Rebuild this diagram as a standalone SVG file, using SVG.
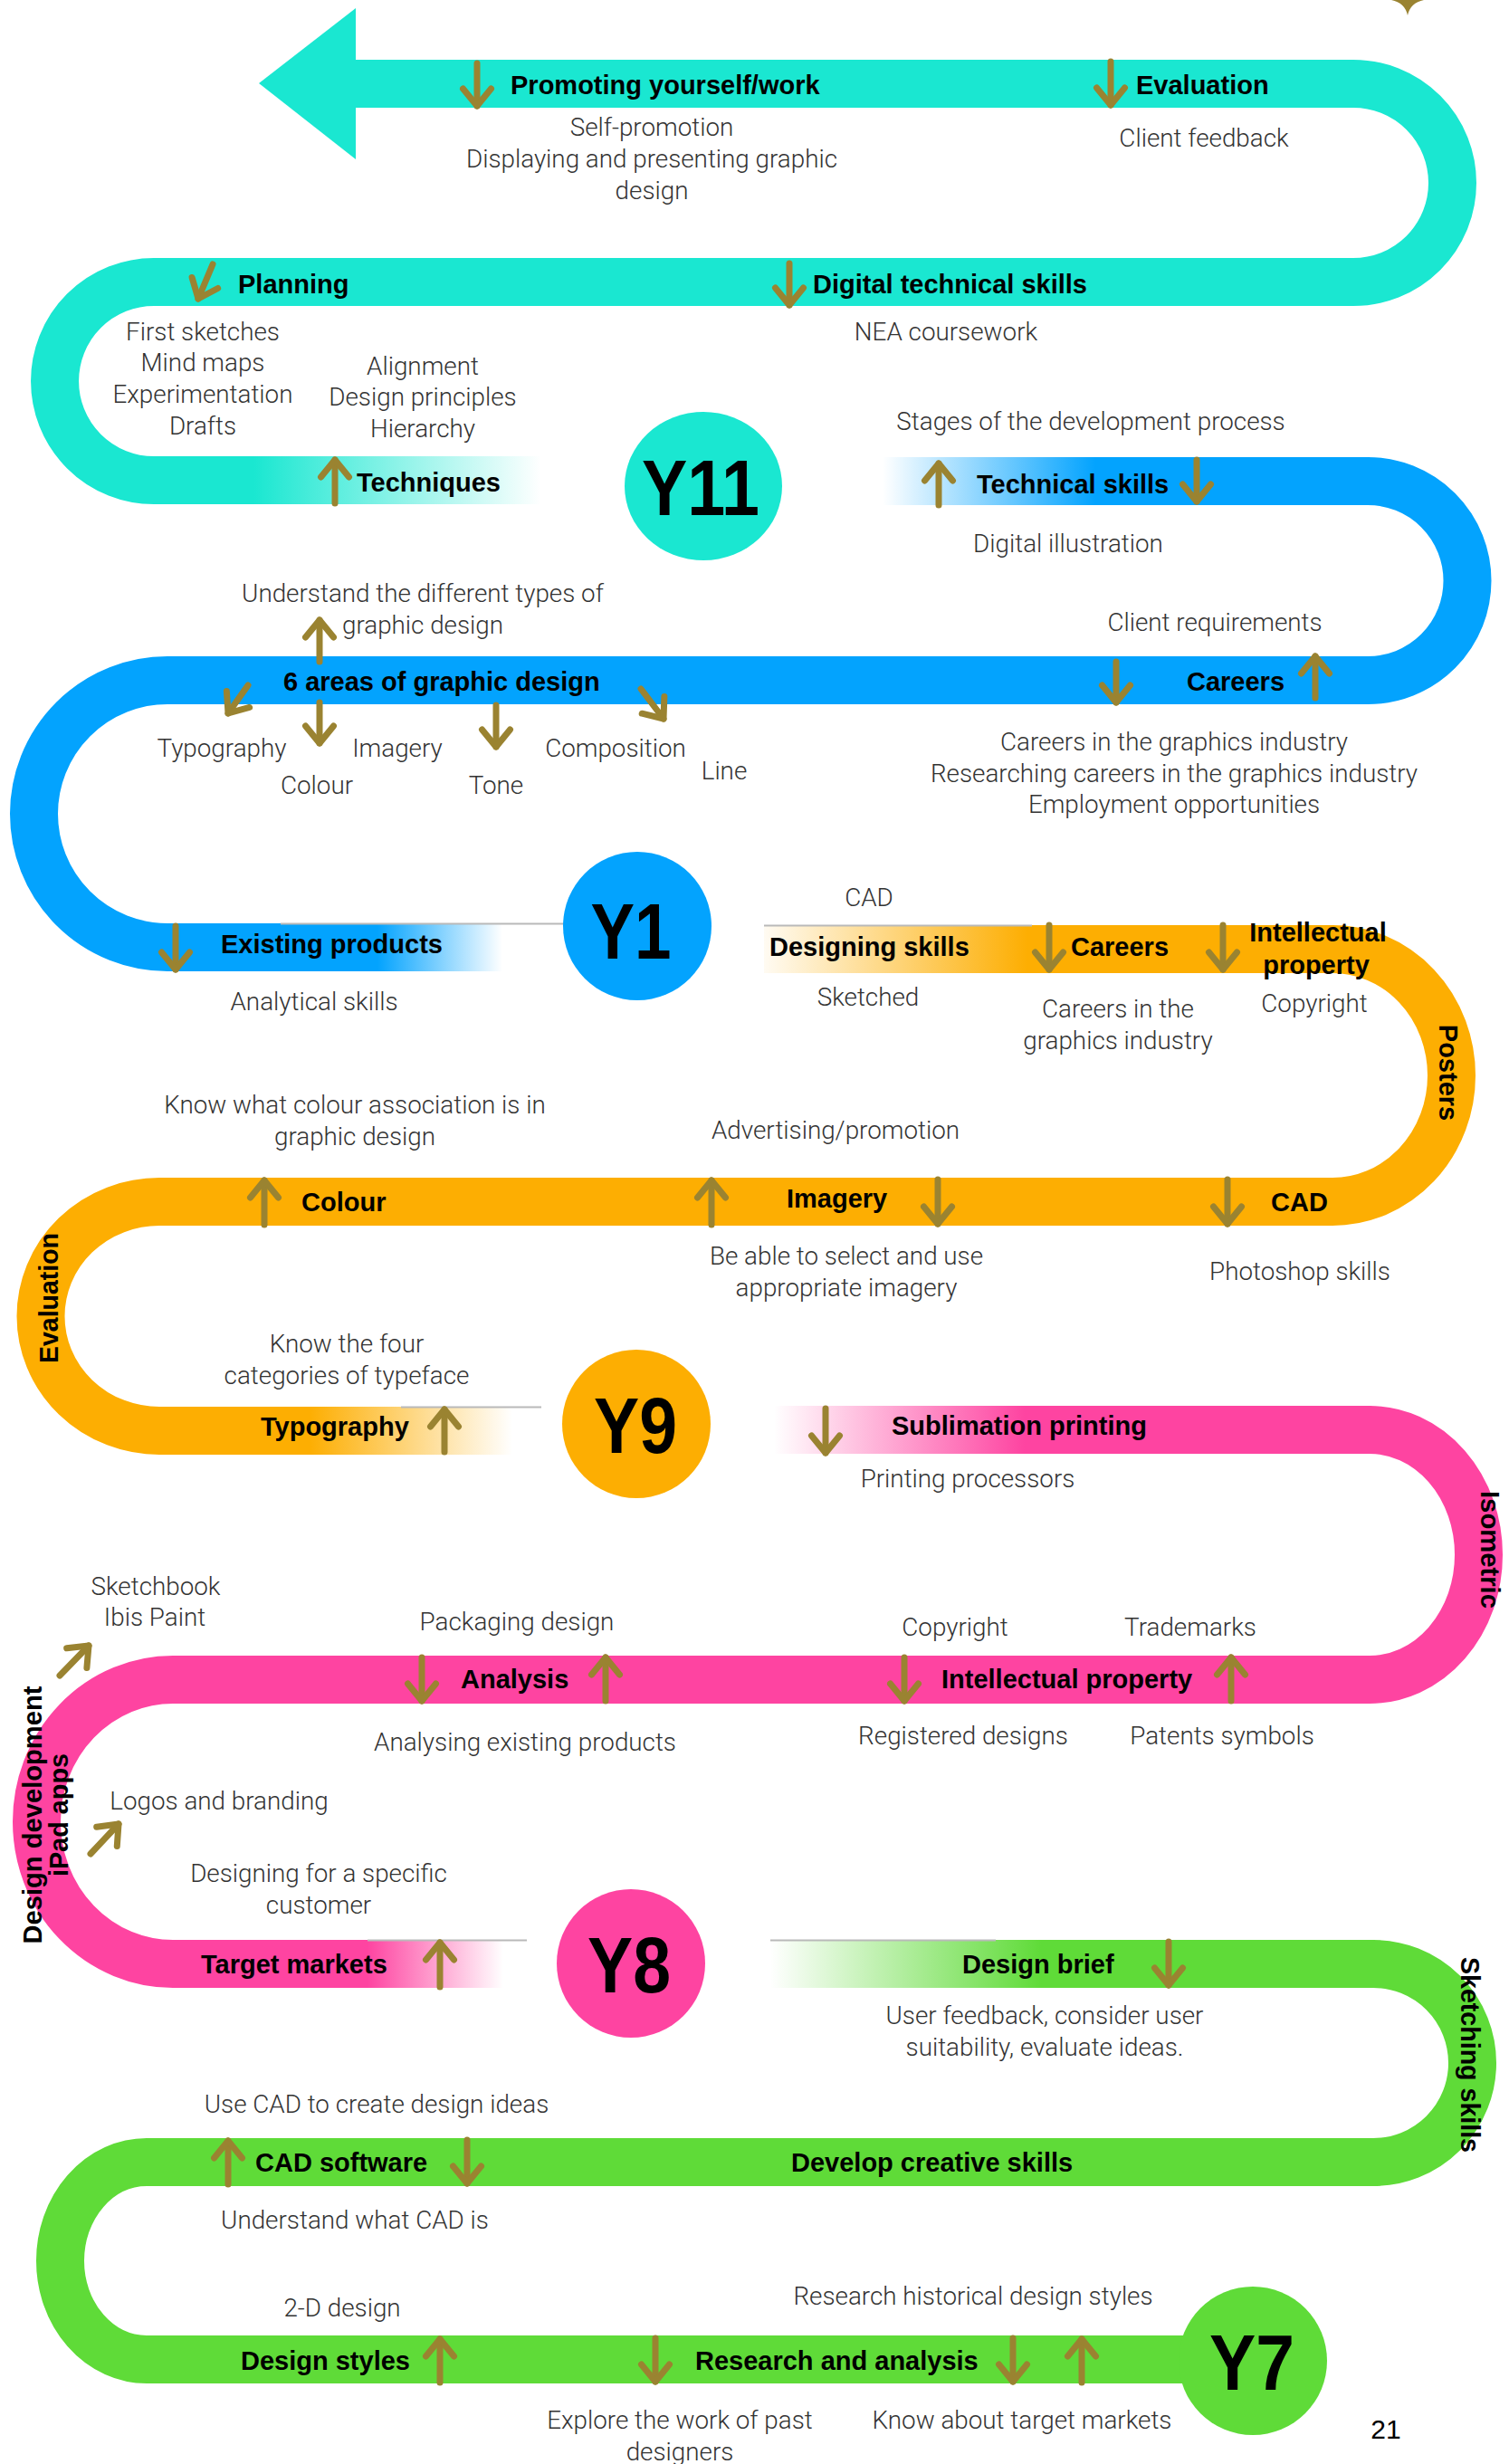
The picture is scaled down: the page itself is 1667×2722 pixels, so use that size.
<svg xmlns="http://www.w3.org/2000/svg" width="1667" height="2722" viewBox="0 0 1667 2722">
<defs>
<style>
.lbl{font-family:"Liberation Sans",Arial,sans-serif;font-weight:bold;font-size:29px;fill:#000}
.txt{font-family:Roboto,"Open Sans","Liberation Sans",sans-serif;font-weight:300;font-size:27.8px;fill:#333;text-anchor:middle}
.vt{font-family:"Liberation Sans",Arial,sans-serif;font-weight:bold;font-size:29px;fill:#000;text-anchor:middle}
.yr{font-family:"Liberation Sans",Arial,sans-serif;font-weight:bold;font-size:88px;fill:#000;text-anchor:middle}
.band{fill:none;stroke-width:53;stroke-linecap:butt;stroke-linejoin:round}
.arr{fill:none;stroke:#9A8331;stroke-width:7;stroke-linecap:round;marker-end:url(#ah)}
.seam{stroke:#b9b9b9;stroke-width:2}
</style>
<marker id="ah" markerUnits="userSpaceOnUse" viewBox="-25 -22 31 44" refX="0" refY="0" markerWidth="31" markerHeight="44" orient="auto">
<path d="M-19,-15.5 L0,0 L-19,15.5" fill="none" stroke="#9A8331" stroke-width="7" stroke-linecap="round" stroke-linejoin="round"/>
</marker>
<linearGradient id="gTeal" gradientUnits="userSpaceOnUse" x1="280" y1="0" x2="598" y2="0"><stop offset="0" stop-color="#1AE7D1"/><stop offset="1" stop-color="#1AE7D1" stop-opacity="0"/></linearGradient>
<linearGradient id="gBlueIn" gradientUnits="userSpaceOnUse" x1="975" y1="0" x2="1210" y2="0"><stop offset="0" stop-color="#03A3FE" stop-opacity="0"/><stop offset="1" stop-color="#03A3FE"/></linearGradient>
<linearGradient id="gBlueOut" gradientUnits="userSpaceOnUse" x1="417" y1="0" x2="555" y2="0"><stop offset="0" stop-color="#03A3FE"/><stop offset="1" stop-color="#03A3FE" stop-opacity="0"/></linearGradient>
<linearGradient id="gOrIn" gradientUnits="userSpaceOnUse" x1="844" y1="0" x2="1135" y2="0"><stop offset="0" stop-color="#FDAE02" stop-opacity="0.05"/><stop offset="1" stop-color="#FDAE02"/></linearGradient>
<linearGradient id="gOrOut" gradientUnits="userSpaceOnUse" x1="342" y1="0" x2="566" y2="0"><stop offset="0" stop-color="#FDAE02"/><stop offset="1" stop-color="#FDAE02" stop-opacity="0"/></linearGradient>
<linearGradient id="gPkIn" gradientUnits="userSpaceOnUse" x1="855" y1="0" x2="1132" y2="0"><stop offset="0" stop-color="#FE44A1" stop-opacity="0"/><stop offset="1" stop-color="#FE44A1"/></linearGradient>
<linearGradient id="gPkOut" gradientUnits="userSpaceOnUse" x1="406" y1="0" x2="556" y2="0"><stop offset="0" stop-color="#FE44A1"/><stop offset="1" stop-color="#FE44A1" stop-opacity="0"/></linearGradient>
<linearGradient id="gGrIn" gradientUnits="userSpaceOnUse" x1="851" y1="0" x2="1150" y2="0"><stop offset="0" stop-color="#5FDB38" stop-opacity="0"/><stop offset="1" stop-color="#5FDB38"/></linearGradient>
</defs>
<rect width="1667" height="2722" fill="#fff"/>

<!-- Y11 teal section -->
<g id="band-y11">
<polygon points="286,92 393,9 393,176" fill="#1AE7D1"/>
<path class="band" stroke="#1AE7D1" d="M390,92.5 H1495 A109.5,109.5 0 0 1 1495,311.5 H170 A109.5,109.5 0 0 0 170,530.5 H172"/>
<rect x="170" y="504" width="430" height="53" fill="url(#gTeal)"/>
<text class="lbl" x="564" y="104">Promoting yourself/work</text>
<text class="lbl" x="1255" y="104">Evaluation</text>
<text class="txt" x="720" y="150">Self-promotion</text>
<text class="txt" x="720" y="185">Displaying and presenting graphic</text>
<text class="txt" x="720" y="220">design</text>
<text class="txt" x="1330" y="162">Client feedback</text>
<text class="lbl" x="263" y="324">Planning</text>
<text class="lbl" x="898" y="324">Digital technical skills</text>
<text class="txt" x="1045" y="376">NEA coursework</text>
<text class="txt" x="224" y="376">First sketches</text>
<text class="txt" x="224" y="410">Mind maps</text>
<text class="txt" x="224" y="445">Experimentation</text>
<text class="txt" x="224" y="480">Drafts</text>
<text class="txt" x="467" y="414">Alignment</text>
<text class="txt" x="467" y="448">Design principles</text>
<text class="txt" x="467" y="483">Hierarchy</text>
<text class="lbl" x="394" y="543">Techniques</text>
</g>
<g id="node-y11">
<ellipse cx="777" cy="537" rx="87" ry="82" fill="#1AE7D1"/>
<text class="yr" x="774" y="569" textLength="130" lengthAdjust="spacingAndGlyphs">Y11</text>
</g>

<!-- Y1 blue section -->
<g id="band-y1">
<rect x="975" y="505" width="538" height="53" fill="url(#gBlueIn)"/>
<path class="band" stroke="#03A3FE" d="M1511,531.5 A110,110 0 0 1 1511,751.5 H185 A147.5,147.5 0 0 0 185,1046.5 H187"/>
<rect x="184" y="1020" width="380" height="53" fill="url(#gBlueOut)"/>
<line class="seam" x1="310" y1="1020.5" x2="623" y2="1020.5"/>
<text class="lbl" x="1079" y="545">Technical skills</text>
<text class="txt" x="1205" y="475">Stages of the development process</text>
<text class="txt" x="1180" y="610">Digital illustration</text>
<text class="txt" x="467" y="665">Understand the different types of</text>
<text class="txt" x="467" y="700">graphic design</text>
<text class="lbl" x="313" y="763">6 areas of graphic design</text>
<text class="txt" x="245" y="836">Typography</text>
<text class="txt" x="439" y="836">Imagery</text>
<text class="txt" x="680" y="836">Composition</text>
<text class="txt" x="350" y="877">Colour</text>
<text class="txt" x="548" y="877">Tone</text>
<text class="txt" x="800" y="861">Line</text>
<text class="txt" x="1342" y="697">Client requirements</text>
<text class="lbl" x="1311" y="763">Careers</text>
<text class="txt" x="1297" y="829">Careers in the graphics industry</text>
<text class="txt" x="1297" y="864">Researching careers in the graphics industry</text>
<text class="txt" x="1297" y="898">Employment opportunities</text>
<text class="lbl" x="244" y="1053">Existing products</text>
<text class="txt" x="347" y="1116">Analytical skills</text>
</g>
<g id="node-y1">
<circle cx="704" cy="1023" r="82" fill="#03A3FE"/>
<text class="yr" x="697" y="1059" textLength="89" lengthAdjust="spacingAndGlyphs">Y1</text>
</g>

<!-- Y9 orange section -->
<g id="band-y9">
<rect x="844" y="1022" width="630" height="53" fill="url(#gOrIn)"/>
<line class="seam" x1="844" y1="1022.5" x2="1140" y2="1022.5"/>
<path class="band" stroke="#FDAE02" d="M1472,1048.5 A131.5,139.5 0 0 1 1472,1327.5 H176 A131,126.5 0 0 0 176,1580.5 H178"/>
<rect x="175" y="1554" width="400" height="53" fill="url(#gOrOut)"/>
<line class="seam" x1="443" y1="1554.5" x2="598" y2="1554.5"/>
<text class="txt" x="960" y="1001">CAD</text>
<text class="lbl" x="850" y="1056">Designing skills</text>
<text class="lbl" x="1183" y="1056">Careers</text>
<text class="lbl" x="1456" y="1040" text-anchor="middle">Intellectual</text>
<text class="lbl" x="1454" y="1076" text-anchor="middle">property</text>
<text class="txt" x="959" y="1111">Sketched</text>
<text class="txt" x="1235" y="1124">Careers in the</text>
<text class="txt" x="1235" y="1159">graphics industry</text>
<text class="txt" x="1452" y="1118">Copyright</text>
<text class="vt" transform="translate(1590,1185) rotate(90)">Posters</text>
<text class="txt" x="392" y="1230">Know what colour association is in</text>
<text class="txt" x="392" y="1265">graphic design</text>
<text class="txt" x="923" y="1258">Advertising/promotion</text>
<text class="lbl" x="333" y="1338">Colour</text>
<text class="lbl" x="869" y="1334">Imagery</text>
<text class="lbl" x="1404" y="1338">CAD</text>
<text class="txt" x="935" y="1397">Be able to select and use</text>
<text class="txt" x="935" y="1432">appropriate imagery</text>
<text class="txt" x="1436" y="1414">Photoshop skills</text>
<text class="vt" transform="translate(64,1434) rotate(-90)" textLength="144" lengthAdjust="spacingAndGlyphs">Evaluation</text>
<text class="txt" x="383" y="1494">Know the four</text>
<text class="txt" x="383" y="1529">categories of typeface</text>
<text class="lbl" x="288" y="1586">Typography</text>
</g>
<g id="node-y9">
<circle cx="703" cy="1573" r="82" fill="#FDAE02"/>
<text class="yr" x="702" y="1605" textLength="92" lengthAdjust="spacingAndGlyphs">Y9</text>
</g>

<!-- Y8 pink section -->
<g id="band-y8">
<rect x="855" y="1553" width="660" height="53" fill="url(#gPkIn)"/>
<path class="band" stroke="#FE44A1" d="M1513,1579.5 A120.5,138 0 0 1 1513,1855.5 H191 A150.5,157 0 0 0 191,2169.5 H193"/>
<rect x="190" y="2143" width="380" height="53" fill="url(#gPkOut)"/>
<line class="seam" x1="406" y1="2143.5" x2="582" y2="2143.5"/>
<text class="lbl" x="985" y="1585">Sublimation printing</text>
<text class="txt" x="1069" y="1643">Printing processors</text>
<text class="vt" transform="translate(1636,1712) rotate(90)" textLength="130" lengthAdjust="spacingAndGlyphs">Isometric</text>
<text class="txt" x="172" y="1762">Sketchbook</text>
<text class="txt" x="171" y="1796">Ibis Paint</text>
<text class="txt" x="571" y="1801">Packaging design</text>
<text class="txt" x="1055" y="1807">Copyright</text>
<text class="txt" x="1315" y="1807">Trademarks</text>
<text class="lbl" x="509" y="1865">Analysis</text>
<text class="lbl" x="1040" y="1865">Intellectual property</text>
<text class="txt" x="580" y="1934">Analysing existing products</text>
<text class="txt" x="1064" y="1927">Registered designs</text>
<text class="txt" x="1350" y="1927">Patents symbols</text>
<text class="vt" transform="translate(46,2005) rotate(-90)" textLength="285" lengthAdjust="spacingAndGlyphs">Design development</text>
<text class="vt" transform="translate(75,2005) rotate(-90)" textLength="136" lengthAdjust="spacingAndGlyphs">iPad apps</text>
<text class="txt" x="242" y="1999">Logos and branding</text>
<text class="txt" x="352" y="2079">Designing for a specific</text>
<text class="txt" x="352" y="2114">customer</text>
<text class="lbl" x="222" y="2180">Target markets</text>
</g>
<g id="node-y8">
<circle cx="697" cy="2169" r="82" fill="#FE44A1"/>
<text class="yr" x="695" y="2201" textLength="92" lengthAdjust="spacingAndGlyphs">Y8</text>
</g>

<!-- Y7 green section -->
<g id="band-y7">
<rect x="851" y="2143" width="668" height="53" fill="url(#gGrIn)"/>
<line class="seam" x1="851" y1="2143.5" x2="1100" y2="2143.5"/>
<path class="band" stroke="#5FDB38" d="M1517,2169.5 A109.5,109.5 0 0 1 1517,2388.5 H162 A95.5,109 0 0 0 162,2606.5 H1340"/>
<text class="lbl" x="1063" y="2180">Design brief</text>
<text class="txt" x="1154" y="2236">User feedback, consider user</text>
<text class="txt" x="1154" y="2271">suitability, evaluate ideas.</text>
<text class="vt" transform="translate(1614,2270) rotate(90)" textLength="216" lengthAdjust="spacingAndGlyphs">Sketching skills</text>
<text class="txt" x="416" y="2334">Use CAD to create design ideas</text>
<text class="lbl" x="282" y="2399">CAD software</text>
<text class="lbl" x="874" y="2399">Develop creative skills</text>
<text class="txt" x="392" y="2462">Understand what CAD is</text>
<text class="txt" x="378" y="2559">2-D design</text>
<text class="txt" x="1075" y="2546">Research historical design styles</text>
<text class="lbl" x="266" y="2618">Design styles</text>
<text class="lbl" x="768" y="2618">Research and analysis</text>
<text class="txt" x="751" y="2683">Explore the work of past</text>
<text class="txt" x="751" y="2718">designers</text>
<text class="txt" x="1129" y="2683">Know about target markets</text>
</g>
<g id="node-y7">
<circle cx="1384" cy="2608" r="82" fill="#5FDB38"/>
<text class="yr" x="1383" y="2640" textLength="94" lengthAdjust="spacingAndGlyphs">Y7</text>
</g>

<text x="1531" y="2694" font-family="Liberation Sans,Arial,sans-serif" font-size="30" text-anchor="middle" fill="#000">21</text>

<g id="connectors">
<path d="M1537,0 Q1552,3 1555,17 Q1558,3 1573,0 Z" fill="#9A8331"/>
<path class="arr" d="M527,70 V117"/>
<path class="arr" d="M1227,68 V116"/>
<path class="arr" d="M235,292 L219,330"/>
<path class="arr" d="M872,291 V337"/>
<path class="arr" d="M370,556 V508"/>
<path class="arr" d="M1037,558 V512"/>
<path class="arr" d="M1322,508 V554"/>
<path class="arr" d="M353,731 V685"/>
<path class="arr" d="M274,757 L252,788"/>
<path class="arr" d="M353,776 V821"/>
<path class="arr" d="M548,779 V825"/>
<path class="arr" d="M708,761 L733,794"/>
<path class="arr" d="M1233,731 V776"/>
<path class="arr" d="M1453,771 V725"/>
<path class="arr" d="M194,1023 V1071"/>
<path class="arr" d="M1159,1022 V1071"/>
<path class="arr" d="M1351,1022 V1071"/>
<path class="arr" d="M292,1353 V1304"/>
<path class="arr" d="M786,1353 V1304"/>
<path class="arr" d="M1036,1303 V1352"/>
<path class="arr" d="M1356,1303 V1352"/>
<path class="arr" d="M491,1604 V1557"/>
<path class="arr" d="M912,1556 V1605"/>
<path class="arr" d="M466,1831 V1879"/>
<path class="arr" d="M669,1879 V1831"/>
<path class="arr" d="M999,1831 V1879"/>
<path class="arr" d="M1360,1879 V1831"/>
<path class="arr" d="M66,1851 L98,1818"/>
<path class="arr" d="M100,2048 L131,2015"/>
<path class="arr" d="M486,2195 V2146"/>
<path class="arr" d="M1291,2145 V2193"/>
<path class="arr" d="M252,2413 V2365"/>
<path class="arr" d="M516,2364 V2412"/>
<path class="arr" d="M486,2632 V2584"/>
<path class="arr" d="M724,2583 V2631"/>
<path class="arr" d="M1119,2583 V2631"/>
<path class="arr" d="M1195,2632 V2584"/>
</g>
</svg>
